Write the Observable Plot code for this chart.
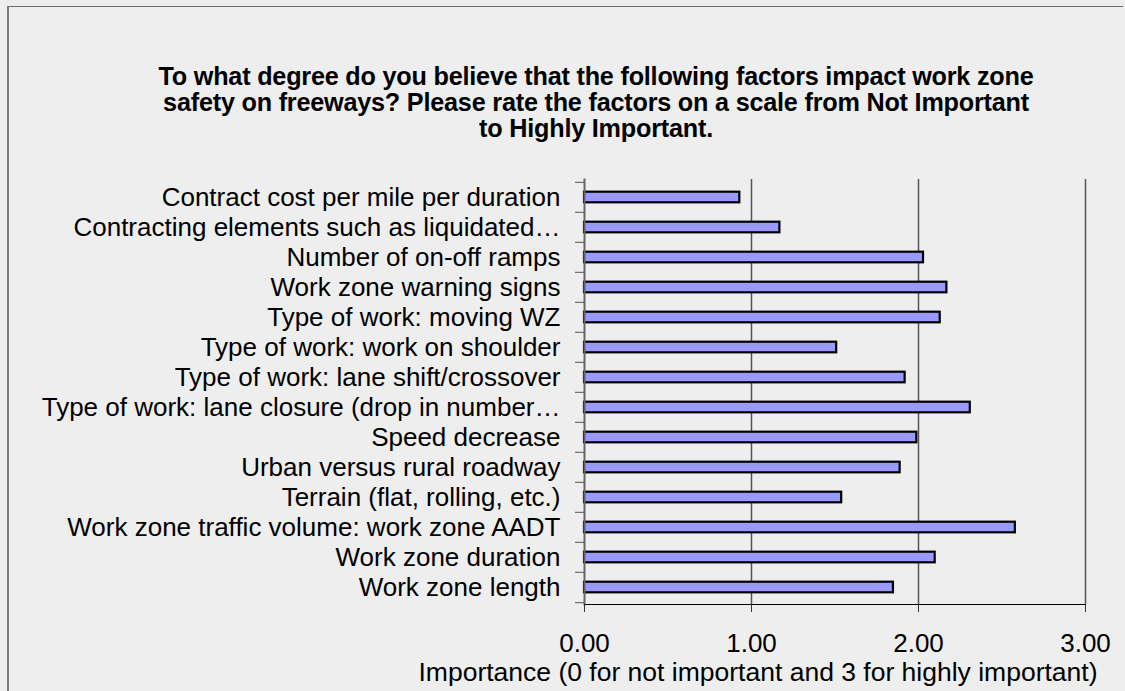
<!DOCTYPE html>
<html>
<head>
<meta charset="utf-8">
<script src="https://cdn.jsdelivr.net/npm/d3@7"></script>
<script src="https://cdn.jsdelivr.net/npm/@observablehq/plot@0.6"></script>
<style>
  html, body { margin: 0; padding: 0; background: #eeeeee; overflow: hidden; }
  body { width: 1125px; height: 691px; position: relative; font-family: "Liberation Sans", Arial, sans-serif; }
  #frame { position: absolute; left: 7px; top: 6px; width: 1116px; height: 685px; border-left: 2px solid #7a7a7a; border-top: 1px solid #6a6a6a; box-sizing: border-box; }
  #title { position: absolute; left: 96px; width: 1000px; top: 63px; text-align: center; font-weight: bold; font-size: 25.2px; line-height: 26px; color: #000; letter-spacing: -0.2px; }
  #chart { position: absolute; left: 0; top: 150px; }
</style>
</head>
<body>
<div id="frame"></div>
<div id="title">To what degree do you believe that the following factors impact work zone<br>safety on freeways? Please rate the factors on a scale from Not Important<br>to Highly Important.</div>
<div id="chart"></div>
<script>
const categories = [
  "Contract cost per mile per duration",
  "Contracting elements such as liquidated…",
  "Number of on-off ramps",
  "Work zone warning signs",
  "Type of work: moving WZ",
  "Type of work: work on shoulder",
  "Type of work: lane shift/crossover",
  "Type of work: lane closure (drop in number…",
  "Speed decrease",
  "Urban versus rural roadway",
  "Terrain (flat, rolling, etc.)",
  "Work zone traffic volume: work zone AADT",
  "Work zone duration",
  "Work zone length"
];
const values = [0.93, 1.17, 2.03, 2.17, 2.13, 1.51, 1.92, 2.31, 1.99, 1.89, 1.54, 2.58, 2.10, 1.85];
const xTicks = [0, 1, 2, 3];
const gridTicks = [1, 2, 3];
const xLabel = "Importance (0 for not important and 3 for highly important)";

const data = categories.map((c, i) => ({label: c, value: values[i]}));

const H = 541, mTop = 29, mBottom = 87;
const step = (H - mTop - mBottom) / categories.length;

const chart = Plot.plot({
  width: 1125,
  height: H,
  marginTop: mTop,
  marginBottom: mBottom,
  marginLeft: 584,
  marginRight: 40,
  style: {background: "transparent", fontFamily: "'Liberation Sans', Arial, sans-serif", fontSize: "26px", color: "#000", overflow: "visible"},
  x: {domain: [0, 3]},
  y: {domain: categories, padding: 0},
  marks: [
    Plot.gridX(gridTicks, {stroke: "#555", strokeOpacity: 1, strokeWidth: 1.5}),
    Plot.barX(data, {x: "value", y: "label", fill: "#9999ff", stroke: "#000", strokeWidth: 2.2, insetTop: 9.7, insetBottom: 9.7}),
    Plot.frame({anchor: "left", stroke: "#666", strokeWidth: 2}),
    Plot.frame({anchor: "bottom", stroke: "#000", strokeWidth: 1}),
    Plot.axisY({tickSize: 0, tickPadding: 24, fontSize: 26, fill: "#000", label: null}),
    Plot.axisY({text: null, tickSize: 9, dy: -step / 2, stroke: "#555", label: null}),
    Plot.axisY([categories[categories.length - 1]], {text: null, tickSize: 9, dy: step / 2, stroke: "#555", label: null}),
    Plot.axisX({ticks: xTicks, tickSize: 8, tickPadding: 21, tickFormat: d3.format(".2f"), fontSize: 26, fill: "#000", stroke: "#333", label: null}),
    Plot.text([xLabel], {frameAnchor: "bottom", dx: -77, dy: 68, lineAnchor: "middle", fontSize: 26.5, fill: "#000"})
  ]
});
document.getElementById("chart").appendChild(chart);
</script>
</body>
</html>
